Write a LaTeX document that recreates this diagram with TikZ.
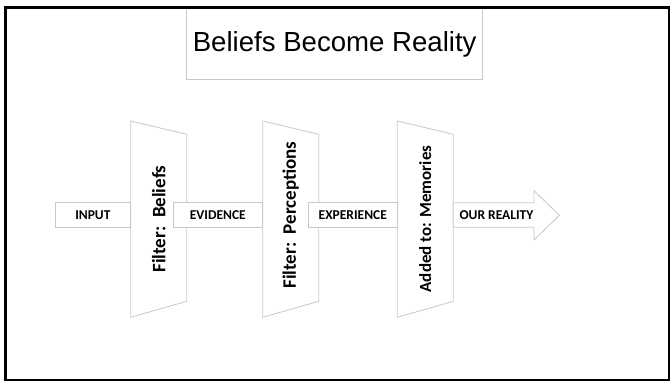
\documentclass[tikz,border=0pt]{standalone}
\usepackage{fontspec}
\newfontfamily\labfont{Carlito}
\newfontfamily\titlefont{Liberation Sans}
\definecolor{edgegray}{RGB}{200,200,200}
\begin{document}
\begin{tikzpicture}[x=1pt,y=-1pt,
  outline/.style={draw=edgegray, line width=0.8pt, fill=white},
  flowbox/.style={outline, inner sep=0pt, minimum height=24.4pt,
    font=\labfont\bfseries\fontsize{13.5}{15}\selectfont},
  vlabel/.style={inner sep=0pt, rotate=90,
    font=\labfont\bfseries\fontsize{19}{22}\selectfont},
  plainlabel/.style={inner sep=0pt, font=\labfont\bfseries\fontsize{13.5}{15}\selectfont}]
\useasboundingbox (0,0) rectangle (670,381);
\fill[white] (0,0) rectangle (670,381);
% title
\node[draw=edgegray, line width=0.8pt, inner sep=0pt, minimum width=295.6pt, minimum height=71.3pt] (titlebox) at (334.5,43.65) {};
\node[anchor=base, inner sep=0pt, font=\titlefont\fontsize{27.6}{30}\selectfont] (title) at (334.7,51.7) {Beliefs Become Reality};
% frame
\draw[line width=2.5pt] (5.3,7.7) rectangle (669,380);
% trapezoids
\foreach \x in {130.7,262.7,397.3}{
  \draw[outline] (\x,121) -- ++(56,13.3) -- ++(0,167) -- ++(-56,16) -- cycle;
}
% boxes
\node[flowbox, minimum width=75.7pt] (input) at (92.85,214.7) {INPUT};
\node[flowbox, minimum width=89.7pt] (evidence) at (217.85,214.9) {EVIDENCE};
\node[flowbox, minimum width=89pt] (experience) at (352.8,214.9) {EXPERIENCE};
% arrow
\draw[outline] (453.3,202.7) -- (534,202.7) -- (534,190.7) -- (559.3,215.3) -- (534,240) -- (534,227.3) -- (453.3,227.3) -- cycle;
\node[plainlabel] (reality) at (496.5,215.5) {OUR REALITY};
% vertical labels
\node[vlabel] (beliefs) at (158.7,219) {Filter:\ \ Beliefs};
\node[vlabel] (perceptions) at (290.7,215) {Filter:\ \ Perceptions};
\node[vlabel, font=\labfont\bfseries\fontsize{17}{20}\selectfont] (memories) at (425.3,219) {Added to: Memories};
\end{tikzpicture}
\end{document}
